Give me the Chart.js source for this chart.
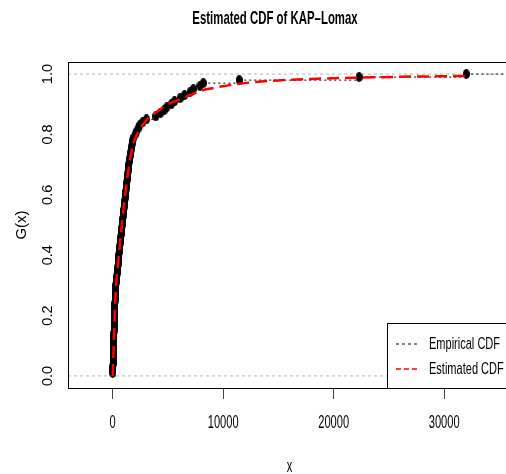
<!DOCTYPE html>
<html>
<head>
<meta charset="utf-8">
<script src="https://cdn.jsdelivr.net/npm/chart.js@4.4.1/dist/chart.umd.min.js"></script>
<style>
  html, body { margin: 0; padding: 0; background: #fff; overflow: hidden; }
  #wrap { width: 506px; height: 474px; overflow: hidden; }
</style>
</head>
<body>
<div id="wrap"><canvas id="grafico" width="550" height="474"></canvas></div>
<script>
// === Dados ===
const amostra = [
  5, 12, 20, 28, 35, 44, 52, 60, 68, 77,
  85, 94, 102, 110, 118, 128, 137, 146, 155, 164,
  172, 182, 190, 200, 210, 220, 232, 245, 262, 290,
  320, 345, 372, 400, 430, 455, 485, 510, 540, 570,
  600, 628, 660, 690, 720, 750, 778, 806, 835, 862,
  892, 920, 950, 980, 1008, 1038, 1065, 1095, 1122, 1150,
  1180, 1210, 1240, 1268, 1296, 1325, 1355, 1385, 1418, 1450,
  1490, 1530, 1575, 1620, 1665, 1710, 1760, 1830, 1920, 2040,
  2170, 2300, 2440, 2700, 3050, 3900, 4300, 4650, 4900, 5300,
  5600, 6100, 6500, 7000, 7300, 7900, 8200, 11450, 22300, 32000
];
const estimadoX = [0, 100, 270, 500, 720, 1000, 1450, 1800, 2200, 3000, 4000, 5000, 6000,
  7000, 8000, 9000, 10000, 11500, 13000, 15000, 18000, 22000, 26000, 30000, 32000];
const estimadoG = [0, 0.11, 0.28, 0.38, 0.46, 0.56, 0.69, 0.76, 0.80, 0.845, 0.875, 0.90, 0.915,
  0.93, 0.945, 0.953, 0.96, 0.968, 0.974, 0.979, 0.984, 0.988, 0.991, 0.993, 0.994];
const ticksX = [0, 10000, 20000, 30000];
const ticksY = [0, 0.2, 0.4, 0.6, 0.8, 1.0];
const limitesX = [-4045, 36045];
const limitesY = [-0.04, 1.04];

const fonte = '"Liberation Sans", Arial, sans-serif';

// === Montar séries ===
const n = amostra.length;
const pontos = amostra.map((v, i) => ({ x: v, y: (i + 1) / n }));
const degraus = [];
amostra.forEach((v, i) => {
  const fim = i < n - 1 ? amostra[i + 1] : limitesX[1];
  degraus.push({ x: v, y: (i + 1) / n }, { x: fim, y: (i + 1) / n }, { x: fim, y: null });
});
const curva = estimadoX.map((v, i) => ({ x: v, y: estimadoG[i] }));

// ponto elíptico (a figura original é comprimida na horizontal)
const marca = document.createElement('canvas');
marca.width = 7; marca.height = 10;
const mctx = marca.getContext('2d');
mctx.fillStyle = '#000';
mctx.beginPath();
mctx.ellipse(3.5, 5, 3.5, 5, 0, 0, Math.PI * 2);
mctx.fill();

// texto comprimido na horizontal
function textoEstreito(ctx, txt, x, y, align, escala) {
  ctx.save();
  ctx.translate(x, y);
  ctx.scale(escala, 1);
  ctx.textAlign = align;
  ctx.fillText(txt, 0, 0);
  ctx.restore();
}

// === Plugin: caixa, título, rótulos, legenda ===
const extras = {
  id: 'extras',
  afterDraw(chart) {
    const { ctx, chartArea: a, scales: { x, y } } = chart;
    ctx.save();
    ctx.strokeStyle = '#000';
    ctx.lineWidth = 1;
    ctx.strokeRect(Math.round(a.left) + 0.5, Math.round(a.top) + 0.5,
      Math.round(a.right - a.left), Math.round(a.bottom - a.top));

    ctx.fillStyle = '#000';
    ctx.textBaseline = 'middle';
    ctx.font = 'bold 19px ' + fonte;
    textoEstreito(ctx, 'Estimated CDF of KAP\u2013Lomax', 275, 19, 'center', 0.6);

    ctx.font = '17.5px ' + fonte;
    ticksX.forEach(v => textoEstreito(ctx, String(v), x.getPixelForValue(v), 423, 'center', 0.635));
    textoEstreito(ctx, 'x', (a.left + a.right) / 2, 467, 'center', 0.635);

    ctx.font = '14.5px ' + fonte;
    ctx.textAlign = 'center';
    ticksY.forEach(v => {
      ctx.save();
      ctx.translate(48, y.getPixelForValue(v));
      ctx.rotate(-Math.PI / 2);
      ctx.fillText(v.toFixed(1), 0, 0);
      ctx.restore();
    });
    ctx.font = '15px ' + fonte;
    ctx.save();
    ctx.translate(22, (a.top + a.bottom) / 2);
    ctx.rotate(-Math.PI / 2);
    ctx.fillText('G(x)', 0, 0);
    ctx.restore();

    // legenda
    const lx = 387, ly = 323;
    ctx.fillStyle = '#fff';
    ctx.fillRect(lx, ly, 200, a.bottom - ly);
    ctx.strokeRect(lx + 0.5, ly + 0.5, 200, Math.round(a.bottom - ly));
    ctx.strokeStyle = '#000';
    ctx.setLineDash([3, 3]);
    ctx.beginPath(); ctx.moveTo(396, 344); ctx.lineTo(419, 344); ctx.stroke();
    ctx.strokeStyle = '#ff0000';
    ctx.lineWidth = 1.5;
    ctx.setLineDash([5, 3]);
    ctx.beginPath(); ctx.moveTo(396, 369); ctx.lineTo(419, 369); ctx.stroke();
    ctx.setLineDash([]);
    ctx.fillStyle = '#000';
    ctx.font = '16.5px ' + fonte;
    textoEstreito(ctx, 'Empirical CDF', 429, 344, 'left', 0.668);
    textoEstreito(ctx, 'Estimated CDF', 429, 369, 'left', 0.668);
    ctx.restore();
  }
};

// === Gráfico ===
new Chart(document.getElementById('grafico').getContext('2d'), {
  type: 'scatter',
  data: {
    datasets: [
      {
        label: 'Estimated CDF',
        data: curva,
        showLine: true,
        borderColor: '#ff0000',
        borderWidth: 2.5,
        borderDash: [12, 6],
        pointRadius: 0,
        cubicInterpolationMode: 'monotone',
        order: 1
      },
      {
        label: 'pontos',
        data: pontos,
        pointStyle: marca,
        pointRadius: 4,
        showLine: false,
        order: 2
      },
      {
        label: 'Empirical CDF',
        data: degraus,
        showLine: true,
        spanGaps: false,
        borderColor: '#000',
        borderWidth: 1,
        borderDash: [2, 3],
        pointRadius: 0,
        order: 3
      },
      {
        label: 'zero',
        data: [{ x: limitesX[0], y: 0 }, { x: limitesX[1], y: 0 }],
        showLine: true,
        borderColor: '#b3b3b3',
        borderWidth: 1,
        borderDash: [3, 3],
        pointRadius: 0,
        order: 4
      },
      {
        label: 'um',
        data: [{ x: limitesX[0], y: 1 }, { x: limitesX[1], y: 1 }],
        showLine: true,
        borderColor: '#b3b3b3',
        borderWidth: 1,
        borderDash: [3, 3],
        pointRadius: 0,
        order: 4
      }
    ]
  },
  options: {
    responsive: false,
    animation: false,
    layout: { padding: { top: 62, left: 0, right: 39, bottom: 0 } },
    plugins: { legend: { display: false }, tooltip: { enabled: false }, title: { display: false } },
    scales: {
      x: {
        type: 'linear',
        min: limitesX[0],
        max: limitesX[1],
        afterBuildTicks: s => { s.ticks = ticksX.map(v => ({ value: v })); },
        afterFit: s => { s.height = 86; },
        ticks: { color: 'rgba(0,0,0,0)', maxRotation: 0 },
        grid: { drawOnChartArea: false, drawTicks: true, tickLength: 11, color: '#444' },
        border: { display: false }
      },
      y: {
        type: 'linear',
        min: limitesY[0],
        max: limitesY[1],
        afterBuildTicks: s => { s.ticks = ticksY.map(v => ({ value: v })); },
        afterFit: s => { s.width = 68; },
        ticks: { display: false },
        grid: { display: false },
        border: { display: false }
      }
    }
  },
  plugins: [extras]
});
</script>
</body>
</html>
